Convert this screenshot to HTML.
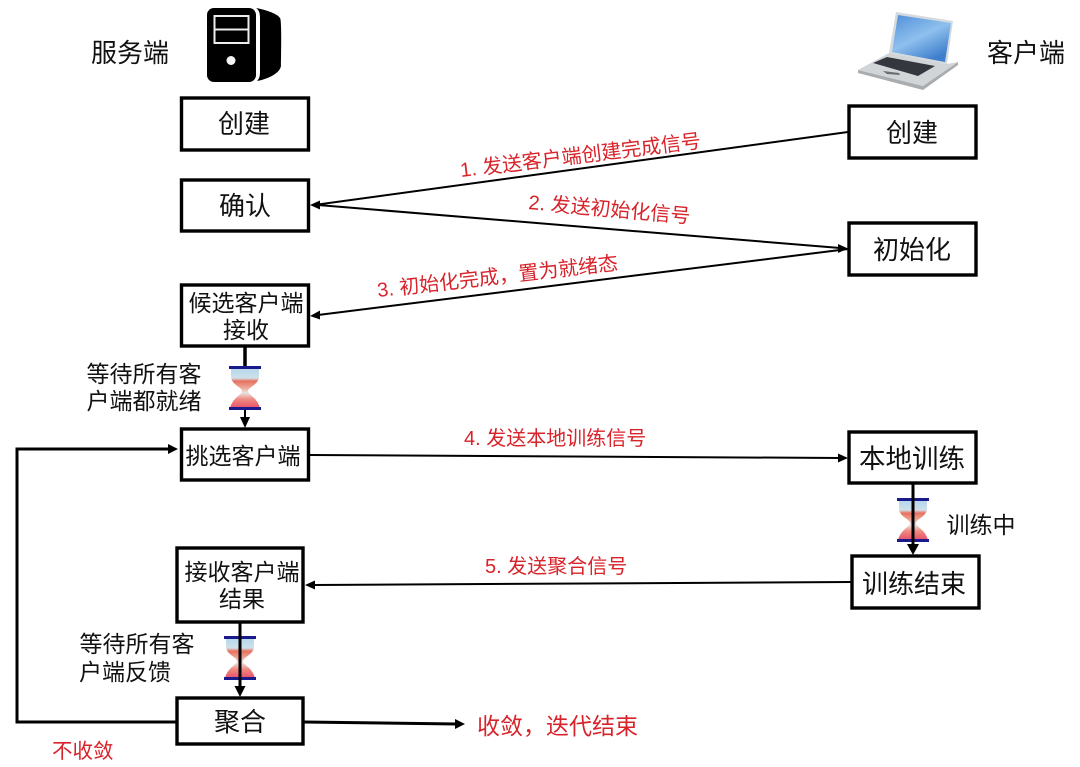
<!DOCTYPE html>
<html>
<head>
<meta charset="utf-8">
<style>
html,body{margin:0;padding:0;background:#fff;width:1080px;height:767px;overflow:hidden}
svg{display:block}
text{font-family:"Liberation Sans","Noto Sans CJK SC",sans-serif}
.b{font-size:26px;fill:#111;text-anchor:middle}
.t{font-size:23px;fill:#111;text-anchor:middle}
.r{font-size:20px;fill:#d8232a}
.box{fill:#fff;stroke:#000;stroke-width:3.4}
.l{stroke:#000;stroke-width:2;fill:none}
</style>
</head>
<body>
<svg width="1080" height="767" viewBox="0 0 1080 767" xmlns="http://www.w3.org/2000/svg">
<defs>
<linearGradient id="sc" x1="0" y1="0" x2="0.6" y2="1"><stop offset="0" stop-color="#4f8fd8"/><stop offset="0.55" stop-color="#8fc0ee"/><stop offset="1" stop-color="#3f7fcc"/></linearGradient>
<linearGradient id="hg" x1="0" y1="0" x2="0" y2="1"><stop offset="0" stop-color="#b4d6ec"/><stop offset="0.25" stop-color="#cfe0ea"/><stop offset="0.33" stop-color="#e8705f"/><stop offset="0.52" stop-color="#ecb0a0"/><stop offset="0.62" stop-color="#e8e4e0"/><stop offset="0.78" stop-color="#ef8a80"/><stop offset="1" stop-color="#e8506a"/></linearGradient>
<g id="hour">
<path d="M-14,-20 H14 V-12 C14,-3 3,-1 3,3 C3,7 12,9 15,20 H-15 C-12,9 -3,7 -3,3 C-3,-1 -14,-3 -14,-12 Z" fill="url(#hg)"/>
<rect x="-16" y="-22" width="32" height="3" fill="#1a1a8c"/>
<rect x="-16" y="19" width="32" height="3" fill="#1a1a8c"/>
</g>
</defs>

<!-- server icon -->
<rect x="207" y="8" width="49" height="74" rx="7" fill="#000"/>
<rect x="214.500" y="16" width="34" height="27" fill="none" stroke="#eee" stroke-width="2"/>
<line x1="214" y1="29.500" x2="249" y2="29.500" stroke="#eee" stroke-width="2"/>
<circle cx="231" cy="60.500" r="4.500" fill="#f4f4f4"/>
<path d="M256,8 C262,9 277,13 280,18 C282,20 281,60 281,65 C281,73 268,79 257,81 C260,78 260,75 260,70 V18 C260,13 259,10 256,8 Z" fill="#000"/>

<!-- laptop icon -->
<path d="M896,12 L953,21 L947,64 L889,53 Z" fill="#d5dadf"/>
<path d="M898,15 L951,23 L945,62 L892,52 Z" fill="url(#sc)"/>
<path d="M889,53 L947,64 L958,62 L923,86 L858,70 Z" fill="#d2d5d8"/>
<path d="M858,70 L923,86 L958,62 L958,65 L923,90 L858,73 Z" fill="#a9adb0"/>
<path d="M887,57 L935,66 L918,76 L873,63 Z" fill="#34383e"/>
<path d="M883,71 L899,73 L900,75 L887,74 Z" fill="#6a6d70"/>

<!-- header text -->
<text x="130" y="62" class="t" style="font-size:26px">服务端</text>
<text x="1026" y="62" class="t" style="font-size:26px">客户端</text>

<!-- connectors -->
<g class="l">
<line x1="848" y1="132" x2="318" y2="204.500"/>
<line x1="318" y1="205" x2="840" y2="248"/>
<line x1="848" y1="249" x2="318" y2="315"/>
<line x1="310" y1="455" x2="840" y2="458"/>
<line x1="851" y1="582" x2="314" y2="585"/>
<line x1="245" y1="408" x2="245" y2="420"/>
<path d="M176,722 H17 V449 H170" stroke-width="3"/>
<line x1="304" y1="722" x2="457" y2="724" stroke-width="3"/>
</g>
<g fill="#000">
<path d="M310,205 L320,200.500 L320,209.500 Z"/>
<path d="M848,248.500 L838,244 L838,253 Z"/>
<path d="M310,316 L320,310.500 L320,319.500 Z"/>
<path d="M848,458 L838,453.500 L838,462.500 Z"/>
<path d="M305,585 L315,580.500 L315,589.500 Z"/>
<path d="M245,428 L240,417 L250,417 Z"/>
<path d="M913,555 L907,544 L919,544 Z"/>
<path d="M240,697 L234.500,686 L245.500,686 Z"/>
<path d="M178,449 L168,444 L168,454 Z"/>
<path d="M465,724 L455,719 L455,729 Z"/>
</g>

<!-- hourglasses -->
<use href="#hour" x="245" y="388"/>
<use href="#hour" x="913" y="520"/>
<use href="#hour" x="240" y="658"/>
<line x1="913" y1="484" x2="913" y2="548" stroke="#000" stroke-width="3"/>
<line x1="240" y1="623" x2="240" y2="690" stroke="#000" stroke-width="3"/>
<line x1="245" y1="347" x2="245" y2="366" stroke="#000" stroke-width="3.500"/>

<!-- boxes -->
<rect class="box" x="181.500" y="98" width="127" height="52"/>
<rect class="box" x="181.500" y="180" width="127" height="51"/>
<rect class="box" x="181.500" y="285" width="127" height="61"/>
<rect class="box" x="181.500" y="429" width="127" height="51"/>
<rect class="box" x="177" y="548" width="126" height="74"/>
<rect class="box" x="177" y="698" width="126" height="46"/>
<rect class="box" x="849" y="106" width="127" height="52"/>
<rect class="box" x="849" y="223" width="127" height="52"/>
<rect class="box" x="849" y="432" width="127" height="51"/>
<rect class="box" x="852" y="556" width="127" height="52"/>

<!-- box labels -->
<text x="244" y="133" class="b">创建</text>
<text x="245" y="215" class="b">确认</text>
<text x="246" y="311" class="t">候选客户端</text>
<text x="246" y="338" class="t">接收</text>
<text x="243" y="464" class="t">挑选客户端</text>
<text x="242" y="580" class="t">接收客户端</text>
<text x="242" y="607" class="t">结果</text>
<text x="240" y="731" class="b">聚合</text>
<text x="912" y="142" class="b">创建</text>
<text x="912" y="259" class="b">初始化</text>
<text x="912" y="468" class="b" style="font-size:26.500px">本地训练</text>
<text x="914" y="593" class="b">训练结束</text>

<!-- side labels -->
<text x="144" y="382" class="t">等待所有客</text>
<text x="144" y="409" class="t">户端都就绪</text>
<text x="137" y="652" class="t">等待所有客</text>
<text x="125" y="680" class="t">户端反馈</text>
<text x="981" y="533" class="t">训练中</text>

<!-- red labels -->
<text class="r" transform="translate(461,177) rotate(-7)">1. 发送客户端创建完成信号</text>
<text class="r" transform="translate(528,209) rotate(5)">2. 发送初始化信号</text>
<text class="r" transform="translate(378,297) rotate(-6.500)">3. 初始化完成，置为就绪态</text>
<text class="r" x="464" y="445">4. 发送本地训练信号</text>
<text class="r" x="485" y="573">5. 发送聚合信号</text>
<text x="477" y="734" style="font-size:23px;fill:#d8232a">收敛，迭代结束</text>
<text x="52" y="758" style="font-size:20.500px;fill:#d8232a">不收敛</text>
</svg>
</body>
</html>
